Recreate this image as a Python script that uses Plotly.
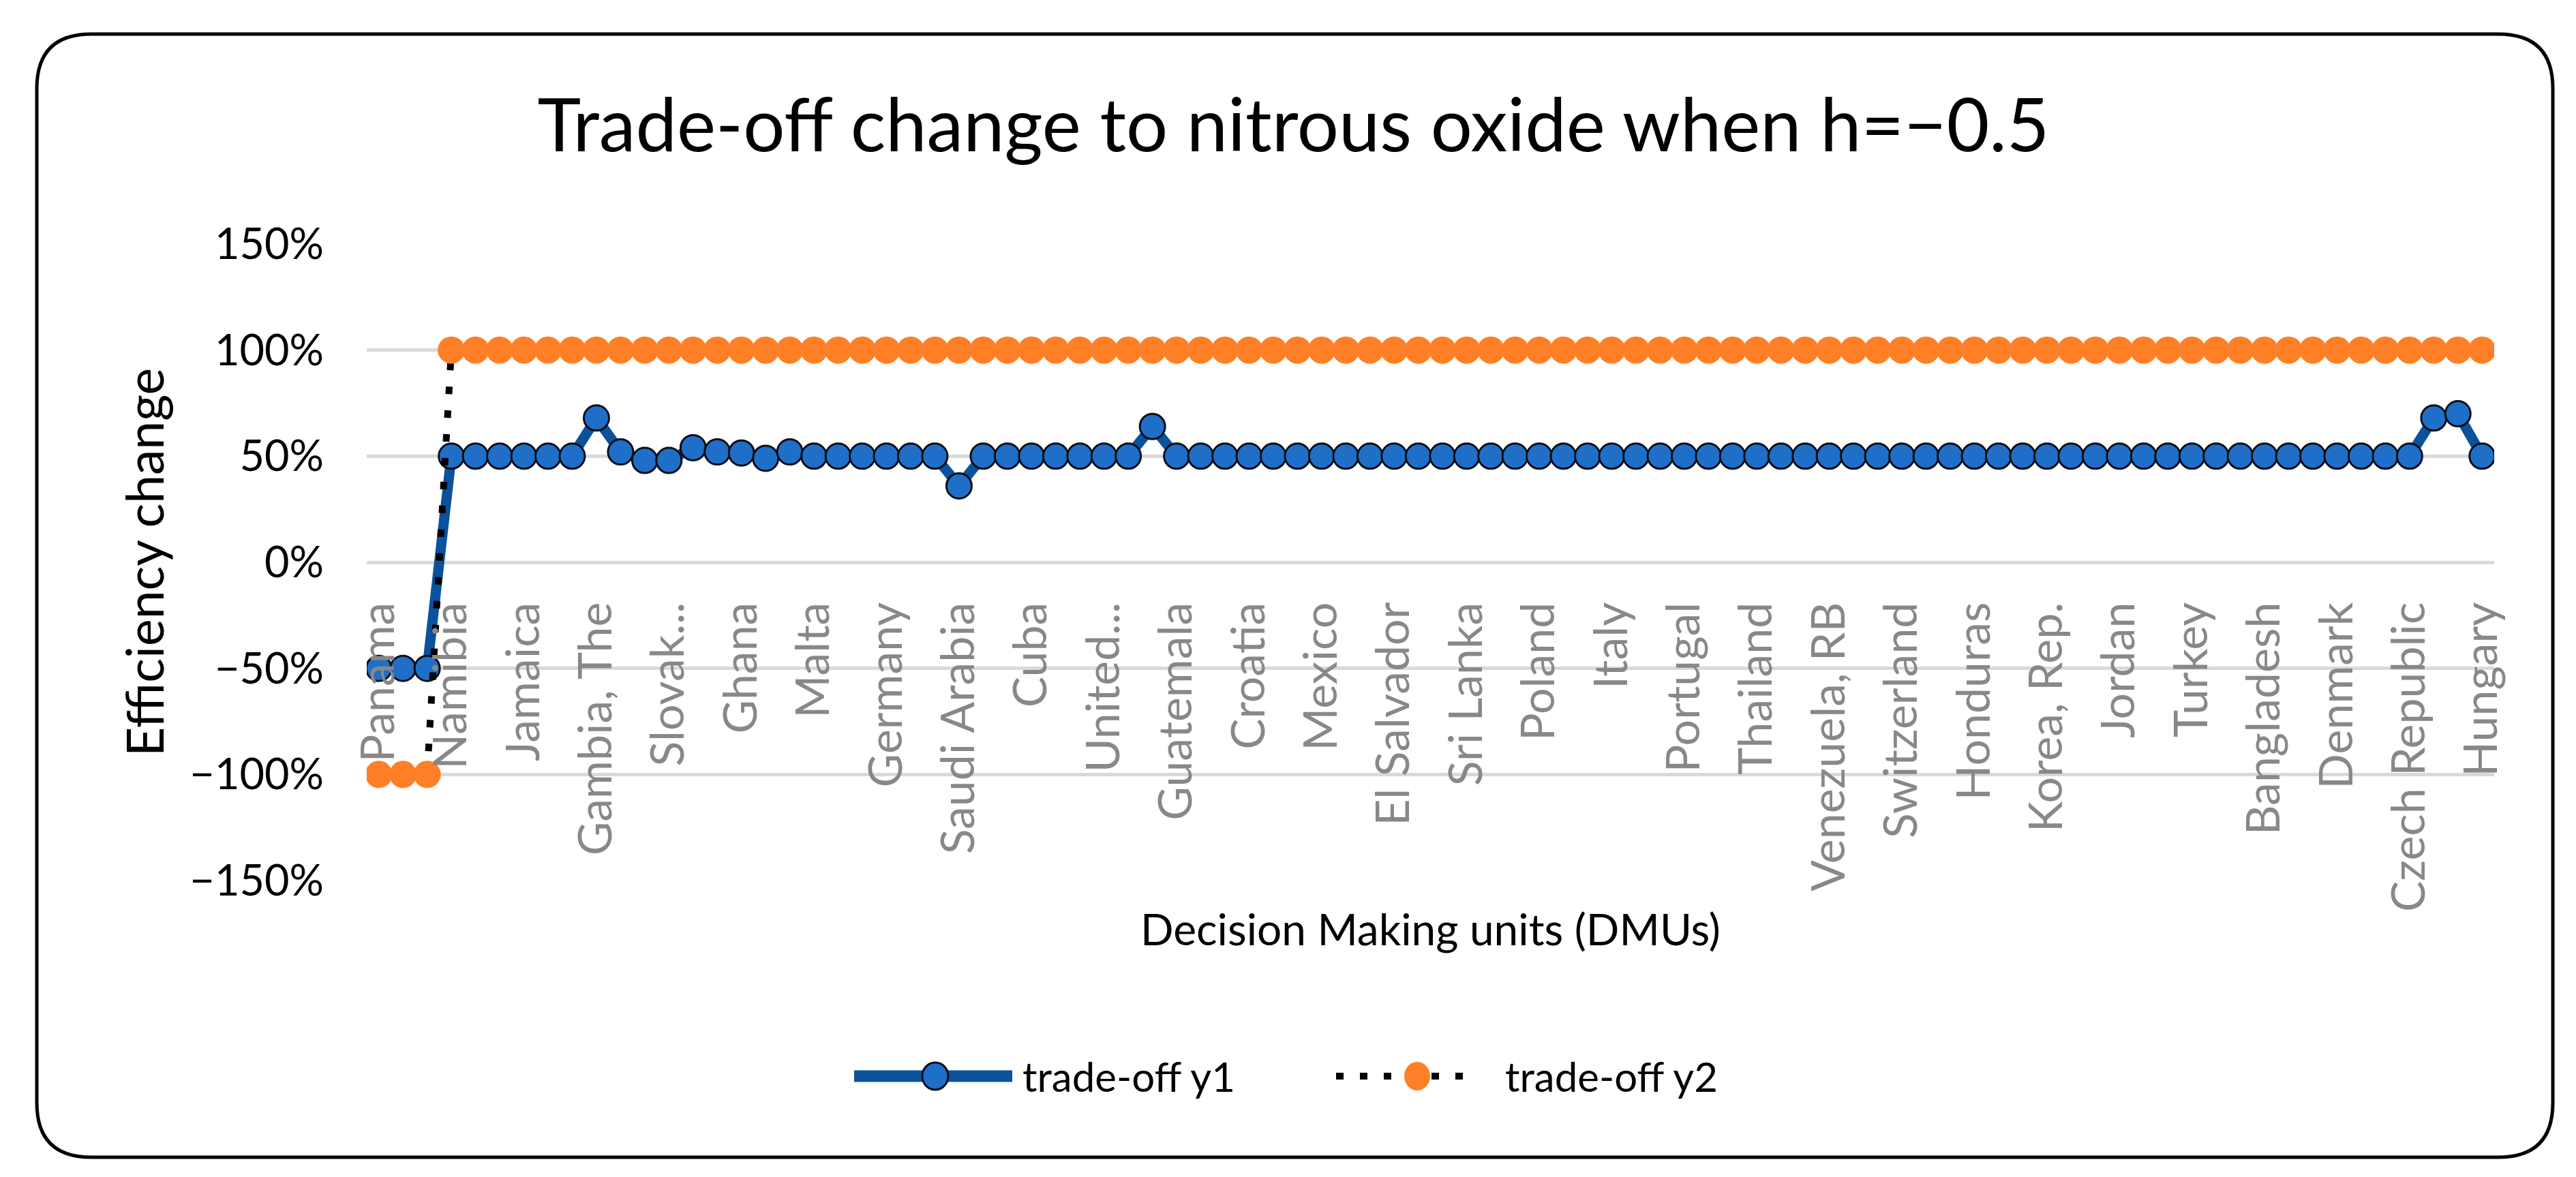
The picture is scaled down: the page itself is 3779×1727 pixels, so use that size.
import plotly.graph_objects as go

# ---------------- data ----------------
tick_labels = ["Panama", "Namibia", "Jamaica", "Gambia, The", "Slovak...", "Ghana",
               "Malta", "Germany", "Saudi Arabia", "Cuba", "United...", "Guatemala",
               "Croatia", "Mexico", "El Salvador", "Sri Lanka", "Poland", "Italy",
               "Portugal", "Thailand", "Venezuela, RB", "Switzerland", "Honduras",
               "Korea, Rep.", "Jordan", "Turkey", "Bangladesh", "Denmark",
               "Czech Republic", "Hungary"]
label_step = 3

trade_off_y1 = ([-0.50, -0.50, -0.50] +
                [0.50, 0.50, 0.50, 0.50, 0.50, 0.50] +
                [0.68, 0.52, 0.48, 0.48, 0.54, 0.52, 0.515, 0.49, 0.52, 0.50] +
                [0.50, 0.50, 0.50, 0.50, 0.50] +
                [0.36] +
                [0.50, 0.50, 0.50, 0.50, 0.50, 0.50, 0.50] +
                [0.64] +
                [0.50] * 52 +
                [0.68, 0.70, 0.50])
trade_off_y2 = [-1.0, -1.0, -1.0] + [1.0] * 85

n_dmu = len(trade_off_y1)
x_idx = list(range(n_dmu))
tick_pos = list(range(0, n_dmu, label_step))

# ---------------- geometry ----------------
W, H = 3779, 1727
L, R, T, B = 530, 3651, 350, 1284
PW, PH = R - L, B - T


def xp(px):
    return (px - L) / PW


def yp(py):
    return (B - py) / PH


FONT = "Lato, 'Open Sans', sans-serif"
BLUE_LINE = "#0b529c"
BLUE_FILL = "#1f6fc8"
ORANGE = "#ff7f27"

fig = go.Figure()

fig.add_trace(go.Scatter(
    x=x_idx, y=trade_off_y1, mode="lines+markers", name="trade-off y1",
    line=dict(color=BLUE_LINE, width=15),
    marker=dict(size=37, color=BLUE_FILL, line=dict(color="#0a0f18", width=3)),
    showlegend=False,
))
fig.add_trace(go.Scatter(
    x=x_idx, y=trade_off_y2, mode="lines+markers", name="trade-off y2",
    line=dict(color="#000000", width=10, dash="11px,24px"),
    marker=dict(size=40, color=ORANGE, line=dict(color=ORANGE, width=0)),
    showlegend=False,
))

fig.update_layout(
    width=W, height=H,
    margin=dict(l=L, r=W - R, t=T, b=H - B, autoexpand=False),
    paper_bgcolor="white", plot_bgcolor="white",
    font=dict(family=FONT, color="#000000"),
    title=dict(text="Trade-off change to nitrous oxide when h=\u22120.5",
               x=0.5, xref="container", xanchor="center",
               y=1 - 176 / H, yref="container", yanchor="middle",
               font=dict(family=FONT, size=108, color="#000000")),
    showlegend=False,
)

fig.update_yaxes(
    range=[-1.5, 1.5], dtick=0.5, tick0=0, tickformat=".0%",
    showgrid=True, gridcolor="#d9d9d9", gridwidth=5,
    zeroline=False, showline=False, ticks="",
    ticklabelstandoff=62,
    tickfont=dict(family=FONT, size=63, color="#000000"),
    automargin=False,
)
fig.update_xaxes(
    range=[-0.5, n_dmu - 0.5],
    tickmode="array", tickvals=tick_pos, ticktext=tick_labels,
    tickangle=-90, anchor="free", position=0.5,
    showgrid=False, zeroline=False, showline=False, ticks="",
    ticklabelstandoff=44,
    tickfont=dict(family=FONT, size=68, color="#888888"),
    automargin=False,
)

# axis titles
fig.add_annotation(text="Efficiency change", xref="paper", yref="paper",
                   x=xp(203), y=0.5, xanchor="center", yanchor="middle",
                   textangle=-90, showarrow=False,
                   font=dict(family=FONT, size=75, color="#000000"))
fig.add_annotation(text="Decision Making units (DMUs)", xref="paper", yref="paper",
                   x=0.5, y=yp(1354), xanchor="center", yanchor="middle",
                   showarrow=False,
                   font=dict(family=FONT, size=64, color="#000000"))

# custom legend
leg_y = yp(1571)
fig.add_shape(type="line", xref="paper", yref="paper",
              x0=xp(1245), x1=xp(1477), y0=leg_y, y1=leg_y,
              line=dict(color=BLUE_LINE, width=17))
fig.add_shape(type="circle", xref="paper", yref="paper",
              xsizemode="pixel", ysizemode="pixel",
              xanchor=xp(1364), yanchor=leg_y, x0=-19, x1=19, y0=-20, y1=20,
              fillcolor=BLUE_FILL, line=dict(color="#0a0f18", width=3))
fig.add_annotation(text="trade-off y1", xref="paper", yref="paper",
                   x=xp(1490), y=leg_y, xanchor="left", yanchor="middle",
                   showarrow=False, font=dict(family=FONT, size=60, color="#000000"))
fig.add_shape(type="line", xref="paper", yref="paper",
              x0=xp(1952), x1=xp(2160), y0=leg_y, y1=leg_y,
              line=dict(color="#000000", width=10, dash="11px,24px"))
fig.add_shape(type="circle", xref="paper", yref="paper",
              xsizemode="pixel", ysizemode="pixel",
              xanchor=xp(2071), yanchor=leg_y, x0=-19, x1=19, y0=-21, y1=21,
              fillcolor=ORANGE, line=dict(color=ORANGE, width=0))
fig.add_annotation(text="trade-off y2", xref="paper", yref="paper",
                   x=xp(2198), y=leg_y, xanchor="left", yanchor="middle",
                   showarrow=False, font=dict(family=FONT, size=60, color="#000000"))

# rounded chart border
bx0, bx1, by0, by1, rr = 46, 3737, 42, 1690, 80
pts = [
    ("M", [(bx0 + rr, by0)]),
    ("L", [(bx1 - rr, by0)]),
    ("Q", [(bx1, by0), (bx1, by0 + rr)]),
    ("L", [(bx1, by1 - rr)]),
    ("Q", [(bx1, by1), (bx1 - rr, by1)]),
    ("L", [(bx0 + rr, by1)]),
    ("Q", [(bx0, by1), (bx0, by1 - rr)]),
    ("L", [(bx0, by0 + rr)]),
    ("Q", [(bx0, by0), (bx0 + rr, by0)]),
]
path = ""
for cmd, cs in pts:
    path += cmd + " " + " ".join(f"{xp(a):.5f},{yp(b):.5f}" for a, b in cs) + " "
path += "Z"
fig.add_shape(type="path", xref="paper", yref="paper", path=path,
              line=dict(color="#000000", width=5), fillcolor="rgba(0,0,0,0)")

fig.write_html("out.html")
